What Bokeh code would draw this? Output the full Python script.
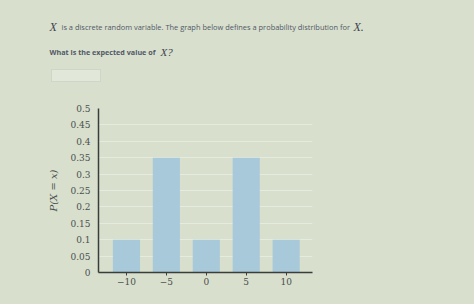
from bokeh.plotting import figure
from bokeh.layouts import column
from bokeh.models import FixedTicker, Range1d, BoxAnnotation
from bokeh.core.properties import value
from bokeh.embed import file_html
from bokeh.resources import INLINE

x_values = [-10, -5, 0, 5, 10]
probabilities = [0.1, 0.35, 0.1, 0.35, 0.1]
y_ticks = [0, 0.05, 0.1, 0.15, 0.2, 0.25, 0.3, 0.35, 0.4, 0.45, 0.5]
y_tick_labels = ["0", "0.05", "0.1", "0.15", "0.2", "0.25", "0.3", "0.35", "0.4", "0.45", "0.5"]

BG = "#d8dfcd"
W, H = 474, 304
HEAD = 95
left, right, top, bottom = 98, 312, 108, 272

# ---- header figure with the question text ----
head = figure(width=W, height=HEAD, output_backend="svg", toolbar_location=None,
              x_range=Range1d(0, W), y_range=Range1d(HEAD, 0),
              min_border=0, min_border_left=0, min_border_right=0,
              min_border_top=0, min_border_bottom=0, frame_align=False)
head.axis.visible = False
head.grid.visible = False
head.outline_line_color = None
head.background_fill_color = BG
head.border_fill_color = BG


def htext(x, y, text, size, style="normal", font="Open Sans", color="#505866"):
    head.text(x=[x], y=[y], text=[text], text_font=value(font), text_font_size=size,
              text_font_style=style, text_color=color, text_baseline="middle")


htext(49, 26, "X", "12px", style="italic", font="Liberation Serif", color="#3f4450")
htext(61, 26, "is a discrete random variable. The graph below defines a probability distribution for",
      "7.45px")
htext(353, 26, "X.", "12px", style="italic", font="Liberation Serif", color="#3f4450")
htext(49, 51, "What is the expected value of", "7.2px", style="bold")
htext(160, 51, "X?", "11px", style="italic", font="Liberation Serif", color="#3f4450")

head.add_layout(BoxAnnotation(left=51, right=100, top=69, bottom=81,
                              fill_color="#e2e8d9", fill_alpha=1,
                              line_color="#b0b6ab", line_width=1))

# ---- chart ----
p = figure(width=W, height=H - HEAD, output_backend="svg", toolbar_location=None,
           x_range=Range1d(-13.5, 13.3), y_range=Range1d(0, 0.5),
           min_border_left=left, min_border_right=W - right,
           min_border_top=top - HEAD, min_border_bottom=H - bottom, frame_align=False)
p.background_fill_color = BG
p.border_fill_color = BG
p.outline_line_color = None

p.vbar(x=x_values, top=probabilities, width=3.4, bottom=0,
       fill_color="#a8c9da", line_color=None)

p.xgrid.visible = False
p.ygrid.ticker = FixedTicker(ticks=y_ticks)
p.ygrid.grid_line_color = "#e6ebdf"
p.ygrid.grid_line_width = 1

p.xaxis.ticker = FixedTicker(ticks=x_values)
p.yaxis.ticker = FixedTicker(ticks=y_ticks)
p.yaxis.major_label_overrides = {t: l for t, l in zip(y_ticks, y_tick_labels)}
for ax in (p.xaxis[0], p.yaxis[0]):
    ax.axis_line_color = "#3a3d3a"
    ax.axis_line_width = 1.5
    ax.major_label_text_font = "DejaVu Serif"
    ax.major_label_text_font_size = "9px"
    ax.major_label_text_color = "#4a4f4e"
    ax.minor_tick_line_color = None
p.xaxis.major_tick_line_color = "#3a3d3a"
p.xaxis.major_tick_out = 3
p.xaxis.major_tick_in = 0
p.yaxis.major_tick_line_color = None
p.yaxis.major_label_standoff = 2
p.xaxis.major_label_standoff = 2
p.yaxis.axis_label = "P(X = x)"
p.yaxis.axis_label_text_font = "DejaVu Serif"
p.yaxis.axis_label_text_font_style = "italic"
p.yaxis.axis_label_text_font_size = "10px"
p.yaxis.axis_label_text_color = "#4a4f4e"
p.yaxis.axis_label_standoff = 8

layout = column(head, p, spacing=0)
layout.background = BG

open("out.html", "w").write(file_html(layout, INLINE))
